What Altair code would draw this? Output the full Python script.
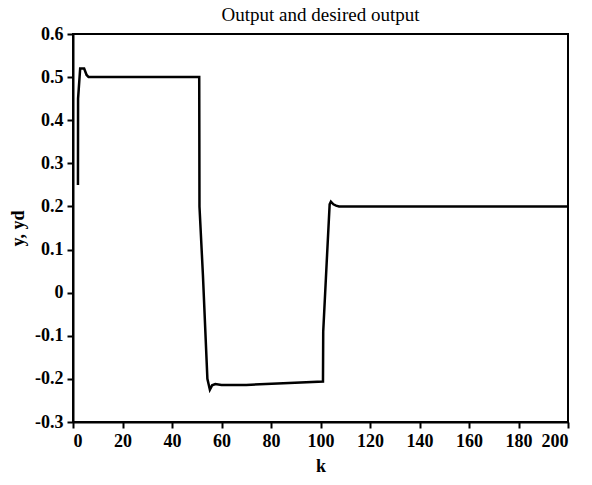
import altair as alt
import pandas as pd

k_vals = [2, 2.05, 2.9, 4.5, 5.5, 6.3, 51, 51.1, 52.5, 54.3, 55.3, 56.2, 57.5,
          60, 70, 85, 101, 101.1, 102.5, 103.7, 104.2, 105.2, 106.3, 107.5, 200]
y_vals = [0.25, 0.45, 0.52, 0.52, 0.505, 0.5, 0.5, 0.2, 0.04, -0.2, -0.225, -0.215, -0.212,
          -0.214, -0.214, -0.21, -0.206, -0.09, 0.07, 0.205, 0.211, 0.205, 0.202, 0.2, 0.2]
x_ticks = [0, 20, 40, 60, 80, 100, 120, 140, 160, 180, 200]
y_ticks = [-0.3, -0.2, -0.1, 0, 0.1, 0.2, 0.3, 0.4, 0.5, 0.6]

df = pd.DataFrame({"k": k_vals, "y": y_vals, "order": list(range(len(k_vals)))})

FONT = "Liberation Serif"

chart = alt.Chart(df).mark_line(color="black", strokeWidth=2.5).encode(
    x=alt.X("k:Q", scale=alt.Scale(domain=[0, 200], nice=False, zero=False),
            axis=alt.Axis(values=x_ticks, title="k", format="d")),
    y=alt.Y("y:Q", scale=alt.Scale(domain=[-0.3, 0.6], nice=False, zero=False),
            axis=alt.Axis(values=y_ticks, title="y, yd",
                          labelExpr="replace(format(datum.value, '.1~f'), '\u2212', '-')")),
    order="order:Q",
).properties(
    width=495,
    height=388,
    background="white",
    title=alt.TitleParams("Output and desired output", font=FONT, fontSize=19,
                          fontWeight="normal", color="black", anchor="middle", offset=0),
    autosize=alt.AutoSizeParams(type="none"),
    padding={"left": 73, "top": 34, "right": 24, "bottom": 63},
).configure_view(
    stroke="black", strokeWidth=2
).configure_axis(
    domainColor="black", domainWidth=2,
    tickColor="black", tickWidth=2, tickSize=6,
    grid=False,
    labelFont=FONT, labelFontSize=18, labelFontWeight="bold", labelColor="black",
    labelPadding=4,
    titleFont=FONT, titleFontSize=18, titleFontWeight="bold", titleColor="black",
    titlePadding=7,
)

chart.save("out.html", embed_options={"renderer": "svg", "actions": False})
